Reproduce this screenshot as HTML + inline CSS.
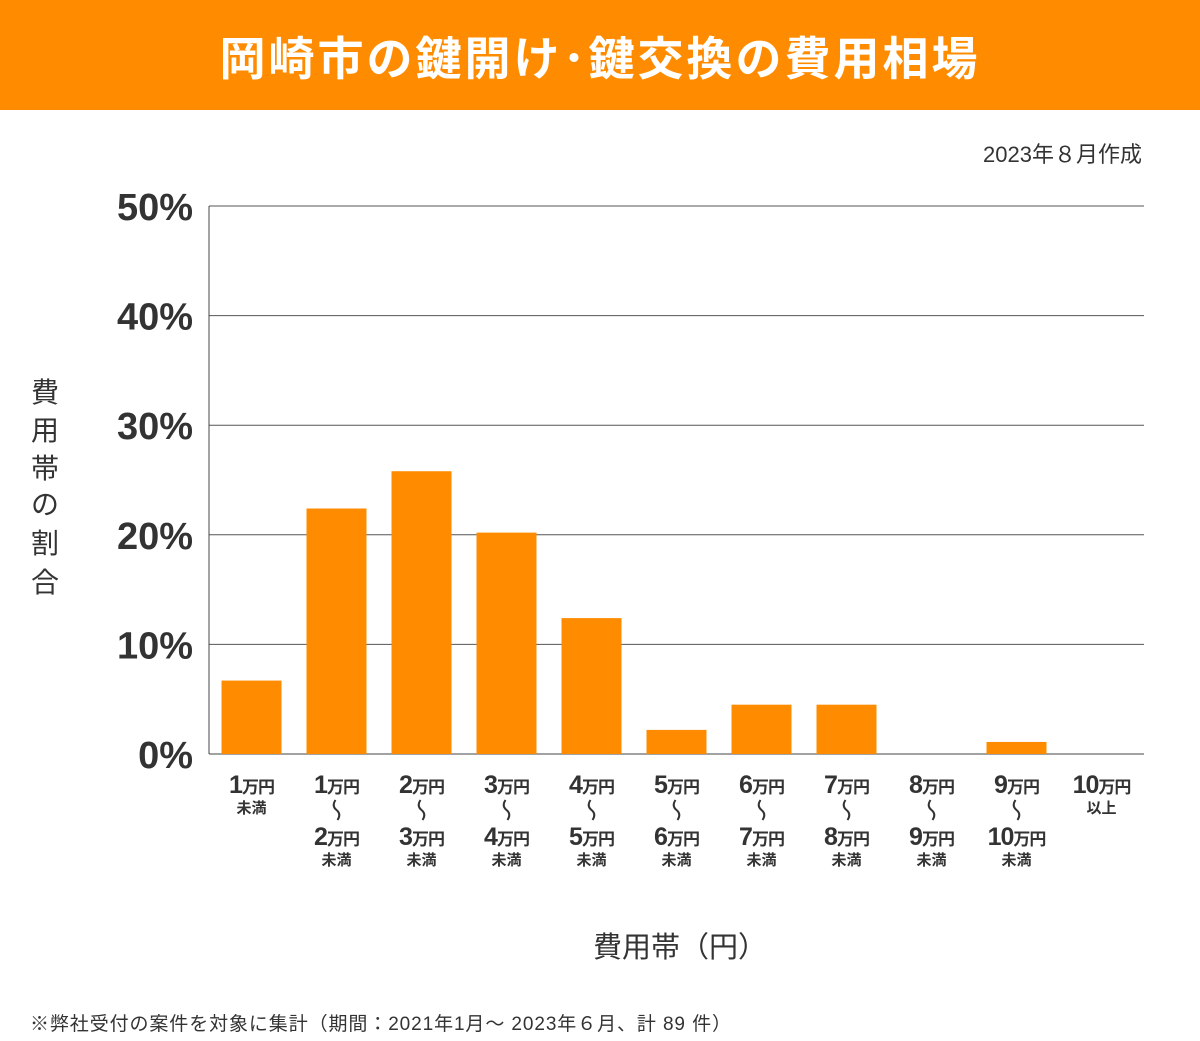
<!DOCTYPE html>
<html><head><meta charset="utf-8">
<style>
body{margin:0;width:1200px;height:1041px;background:#fff;overflow:hidden;font-family:"Liberation Sans","Noto Sans CJK JP",sans-serif;color:#333}
#hdr{position:absolute;left:0;top:0;width:1200px;height:110px;background:#ff8c00;color:#fff;font-weight:bold;font-size:46px;text-align:center;line-height:118px;letter-spacing:3px}
svg text{font-family:"Liberation Sans","Noto Sans CJK JP",sans-serif}
</style></head><body>
<div id="hdr">岡崎市の鍵開け･鍵交換の費用相場</div>
<svg id="c" width="1200" height="1041" style="position:absolute;left:0;top:0">
<text x="1142" y="162" text-anchor="end" font-size="22" fill="#333">2023年８月作成</text>
<g id="lbl" font-size="28" fill="#333" text-anchor="middle">
<text x="45" y="402">費</text><text x="45" y="440">用</text><text x="45" y="478">帯</text><text x="45" y="514">の</text><text x="45" y="553">割</text><text x="45" y="592">合</text>
</g>
<text x="680" y="957" text-anchor="middle" font-size="29" fill="#333">費用帯（円）</text>
<text x="30" y="1030" font-size="19" letter-spacing="0.9" fill="#333">※弊社受付の案件を対象に集計（期間：2021年1月～ 2023年６月、計 89 件）</text>
</svg>
<script>
const yTicks=[0,10,20,30,40,50];
const values=[6.7,22.4,25.8,20.2,12.4,2.2,4.5,4.5,0,1.1,0];
const lowLabels=["1","1","2","3","4","5","6","7","8","9","10"];
const highLabels=["","2","3","4","5","6","7","8","9","10",""];
const suffixes=["未満","未満","未満","未満","未満","未満","未満","未満","未満","未満","以上"];
const NS="http://www.w3.org/2000/svg";
const svg=document.getElementById('c');
const x0=209,x1=1144,y0=754,y1=206;
const y=v=>y0-(v/50)*(y0-y1);
const bw=(x1-x0)/values.length;
const xc=i=>x0+bw*(i+0.5);
function mk(t,a){const e=document.createElementNS(NS,t);for(const k in a)e.setAttribute(k,a[k]);svg.appendChild(e);return e;}
yTicks.forEach(t=>{
 const l=mk('line',{x1:x0,x2:x1,y1:y(t),y2:y(t),stroke:t==0?'#444':'#555','stroke-width':1});
 
 
 const tx=mk('text',{x:193,y:y(t)+14,'text-anchor':'end','font-size':38,'font-weight':'bold',fill:'#333'});
 tx.textContent=t+'%';
 
 
});
const ax=mk('line',{x1:x0,x2:x0,y1:y1,y2:y0,stroke:'#444','stroke-width':1});


values.forEach((v,i)=>{
 if(v>0){const r=mk('rect',{x:xc(i)-30,y:y(v),width:60,height:y0-y(v),fill:'#ff8c00'});
 
 }
 const g=document.createElementNS(NS,'g');svg.appendChild(g);
 
 
 const line=(num,yy)=>{const t=document.createElementNS(NS,'text');t.setAttribute('x',xc(i));t.setAttribute('y',yy);t.setAttribute('text-anchor','middle');t.setAttribute('font-weight','bold');t.setAttribute('fill','#333');t.setAttribute('letter-spacing','-1');
  t.innerHTML='<tspan font-size="25">'+num+'</tspan><tspan font-size="17">万円</tspan>';g.appendChild(t);};
 const small=(s,yy,fs)=>{const t=document.createElementNS(NS,'text');t.setAttribute('x',xc(i));t.setAttribute('y',yy);t.setAttribute('text-anchor','middle');t.setAttribute('font-weight','bold');t.setAttribute('font-size',fs);t.setAttribute('fill','#333');t.textContent=s;g.appendChild(t);};
 line(lowLabels[i],793);
 if(highLabels[i]){
  const w=document.createElementNS(NS,'path');
  const cx=xc(i);
  w.setAttribute('d','M'+(cx-1)+' 800 Q'+(cx-5)+' 806 '+cx+' 810 Q'+(cx+5)+' 814 '+(cx+1)+' 820');
  w.setAttribute('stroke','#333');w.setAttribute('stroke-width','2');w.setAttribute('fill','none');
  g.appendChild(w);
  line(highLabels[i],845);
  small(suffixes[i],865,15);
 } else small(suffixes[i],813,15);
});
</script>
</body></html>
